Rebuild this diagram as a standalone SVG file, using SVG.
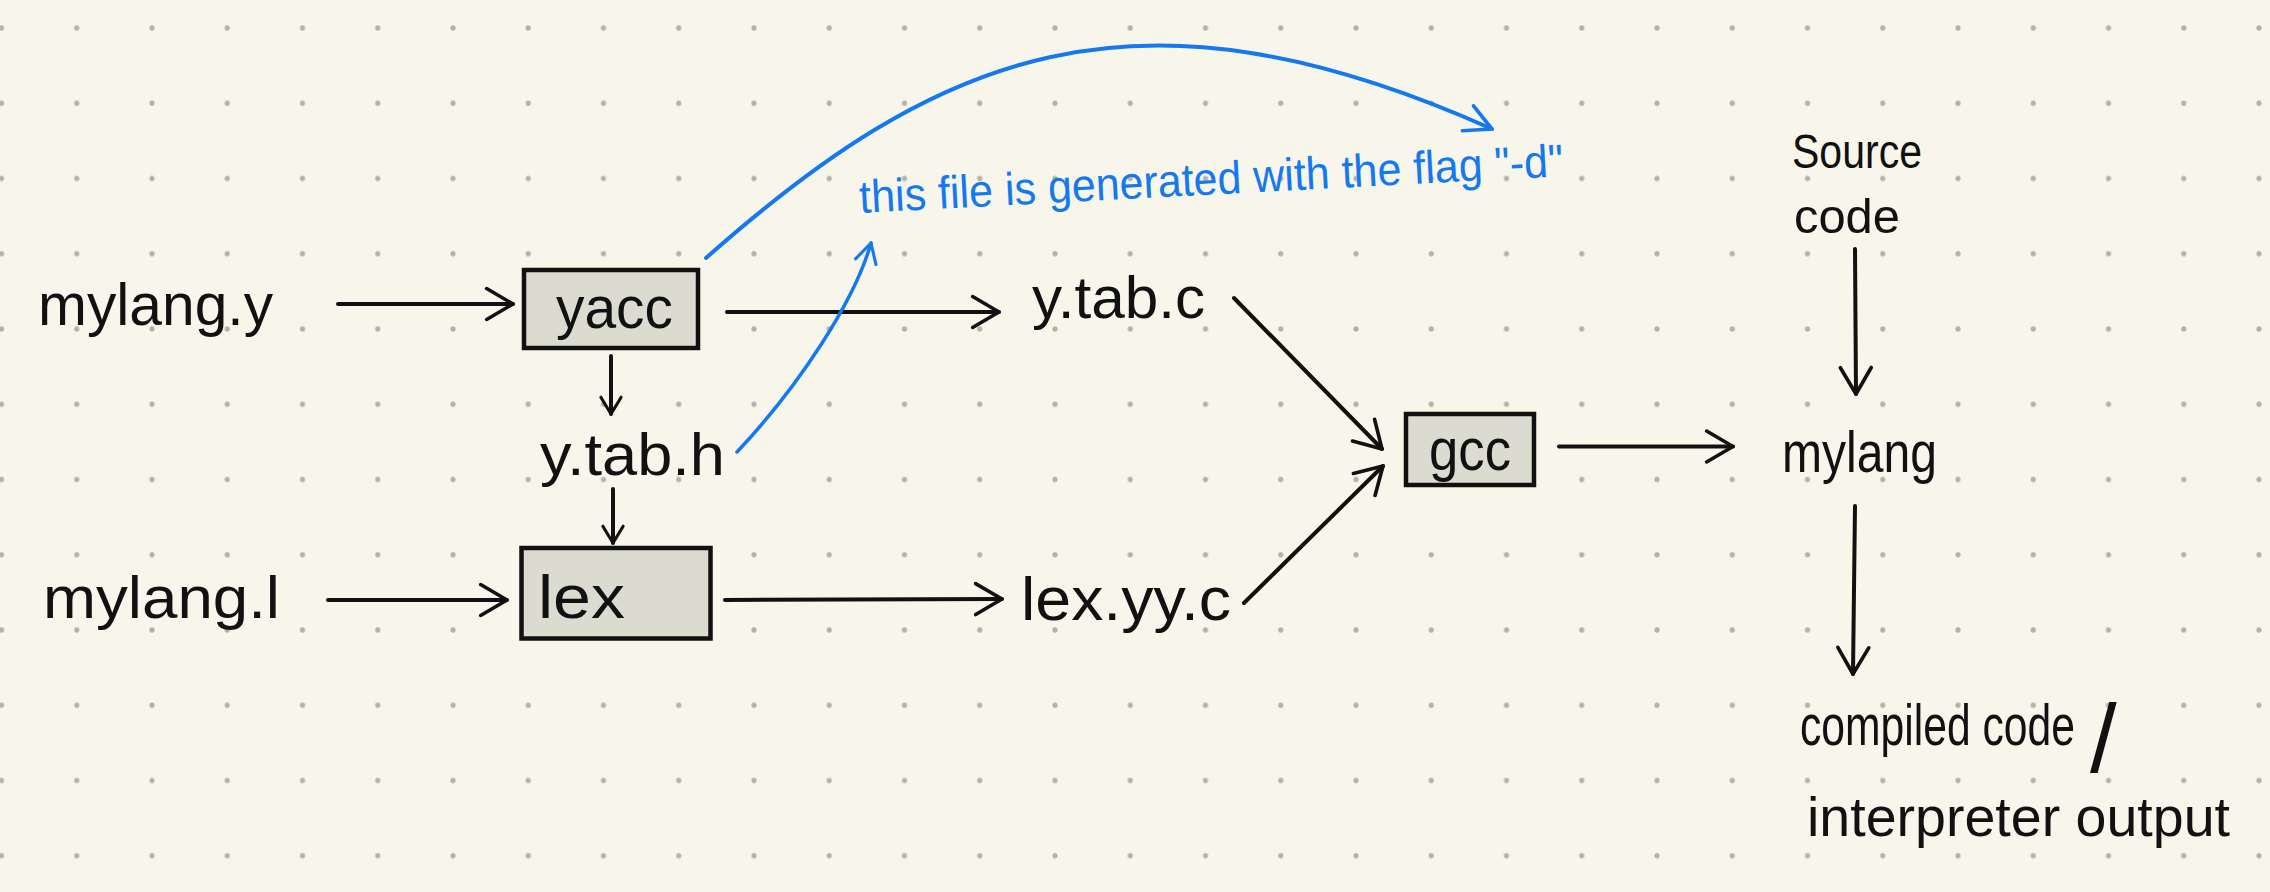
<svg xmlns="http://www.w3.org/2000/svg" width="2270" height="892" viewBox="0 0 2270 892">
<defs>
<pattern id="dots" patternUnits="userSpaceOnUse" x="-36.125" y="-9.625" width="75.25" height="75.25">
<circle cx="37.625" cy="37.625" r="2.6" fill="#b3b2a8"/>
</pattern>
<marker id="ah" markerUnits="userSpaceOnUse" markerWidth="40" markerHeight="40" viewBox="-40 -20 44 40" refX="0" refY="0" orient="auto" overflow="visible">
<path d="M-29,-17 L0,0 L-29,17" fill="none" stroke="#111" stroke-width="4" stroke-linecap="round" stroke-linejoin="round"/>
</marker>
<marker id="ahs" markerUnits="userSpaceOnUse" markerWidth="30" markerHeight="30" viewBox="-30 -15 34 30" refX="0" refY="0" orient="auto" overflow="visible">
<path d="M-19,-11.5 L0,0 L-19,11.5" fill="none" stroke="#111" stroke-width="3.5" stroke-linecap="round" stroke-linejoin="round"/>
</marker>
<marker id="ahb" markerUnits="userSpaceOnUse" markerWidth="40" markerHeight="40" viewBox="-40 -20 44 40" refX="0" refY="0" orient="auto" overflow="visible">
<path d="M-29,-15 L0,0 L-29,15" fill="none" stroke="#1479f0" stroke-width="4" stroke-linecap="round" stroke-linejoin="round"/>
</marker>
<marker id="ahbs" markerUnits="userSpaceOnUse" markerWidth="30" markerHeight="30" viewBox="-30 -15 34 30" refX="0" refY="0" orient="auto" overflow="visible">
<path d="M-22,-12 L0,0 L-22,12" fill="none" stroke="#1479f0" stroke-width="3.5" stroke-linecap="round" stroke-linejoin="round"/>
</marker>
</defs>
<style>
.t{font-family:"Liberation Sans","DejaVu Sans",sans-serif;fill:#111;}
.box{fill:#dcdbd0;stroke:#111;stroke-width:4.5;}
.c{fill:none;stroke:#111;stroke-width:4;stroke-linecap:round;}
.b{fill:none;stroke:#1479f0;stroke-width:4;stroke-linecap:round;}
.bt{font-family:"Liberation Sans","DejaVu Sans",sans-serif;fill:#1479f0;}
</style>
<rect width="2270" height="892" fill="#f8f6ea"/>
<rect width="2270" height="892" fill="url(#dots)"/>

<g id="connectors">
<path class="c" d="M338,304 L513,304" marker-end="url(#ah)"/>
<path class="c" d="M727,312 L999,312" marker-end="url(#ah)"/>
<path class="c" d="M611,356 L611,414" marker-end="url(#ahs)"/>
<path class="c" d="M613,489 L613,543" marker-end="url(#ahs)"/>
<path class="c" d="M328,600 L507,600" marker-end="url(#ah)"/>
<path class="c" d="M725,600 L1002,599" marker-end="url(#ah)"/>
<path class="c" d="M1234,298 L1382,449" marker-end="url(#ah)"/>
<path class="c" d="M1244,603 L1383,466" marker-end="url(#ah)"/>
<path class="c" d="M1559,446.5 L1733,446.5" marker-end="url(#ah)"/>
<path class="c" d="M1855,249 L1856,394" marker-end="url(#ah)"/>
<path class="c" d="M1855,506 L1853,674" marker-end="url(#ah)"/>
<path class="b" d="M706,258 C935,55.5 1131.5,-32 1492,129" marker-end="url(#ahb)"/>
<path class="b" style="stroke-width:3.5" d="M737,452 C800,385 855,300 871,243" marker-end="url(#ahbs)"/>
</g>

<g id="mylang-y"><text class="t" x="38" y="325" font-size="60" textLength="235" lengthAdjust="spacingAndGlyphs">mylang.y</text></g>
<g id="yacc"><rect class="box" x="524" y="270" width="174" height="78"/><text class="t" x="556" y="328" font-size="60" textLength="117" lengthAdjust="spacingAndGlyphs">yacc</text></g>
<g id="y-tab-c"><text class="t" x="1032" y="318" font-size="60" textLength="173" lengthAdjust="spacingAndGlyphs">y.tab.c</text></g>
<g id="y-tab-h"><text class="t" x="540" y="475" font-size="60" textLength="185" lengthAdjust="spacingAndGlyphs">y.tab.h</text></g>
<g id="lex"><rect class="box" x="521.5" y="548" width="189" height="90.5"/><text class="t" x="538" y="618" font-size="62" textLength="87" lengthAdjust="spacingAndGlyphs">lex</text></g>
<g id="mylang-l"><text class="t" x="43" y="618" font-size="60" textLength="237" lengthAdjust="spacingAndGlyphs">mylang.l</text></g>
<g id="lex-yy-c"><text class="t" x="1021" y="620" font-size="62" textLength="210" lengthAdjust="spacingAndGlyphs">lex.yy.c</text></g>
<g id="gcc"><rect class="box" x="1406" y="414" width="128" height="71"/><text class="t" x="1429" y="470" font-size="60" textLength="82" lengthAdjust="spacingAndGlyphs">gcc</text></g>
<g id="mylang"><text class="t" x="1782" y="472" font-size="58" textLength="155" lengthAdjust="spacingAndGlyphs">mylang</text></g>
<g id="source-code">
<text class="t" x="1792" y="168" font-size="48" textLength="130" lengthAdjust="spacingAndGlyphs">Source</text>
<text class="t" x="1794" y="233" font-size="48" textLength="106" lengthAdjust="spacingAndGlyphs">code</text>
</g>
<g id="output">
<text class="t" x="1800" y="745" font-size="58"><tspan textLength="275" lengthAdjust="spacingAndGlyphs">compiled code</tspan><tspan x="2090" y="772" font-size="96">/</tspan></text>
<text class="t" x="1807" y="836" font-size="56" textLength="423" lengthAdjust="spacingAndGlyphs">interpreter output</text>
</g>
<g id="note"><text class="bt" x="860" y="213" font-size="46" textLength="705" lengthAdjust="spacingAndGlyphs" transform="rotate(-3 860 213)">this file is generated with the flag "-d"</text></g>
</svg>
